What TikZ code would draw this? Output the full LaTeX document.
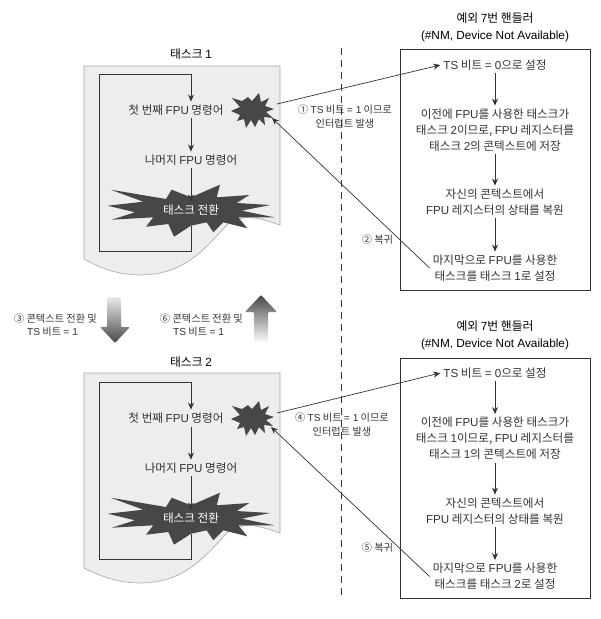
\documentclass[tikz,border=0pt]{standalone}
\usepackage{fontspec}
\setmainfont{Noto Sans CJK KR}
\newfontfamily\latinfont{Liberation Sans}
\newcommand{\en}[1]{{\latinfont #1}}
\usetikzlibrary{arrows.meta}
% outlines of the two bursts, around (0,0)
\newcommand{\bigburst}{(0,-12.7) -- (29,-25.3) -- (25.7,-12.7) -- (58.3,-15) -- (45.7,-7) -- (79,-5) -- (50.7,0.7) -- (83.3,7.3) -- (47.3,7.3) -- (56.3,18.3) -- (32.3,12.3) -- (22.3,22.3) -- (15.7,12.3) -- (0,15.7) -- (-17,26.7) -- (-22.7,14) -- (-45,16.7) -- (-37.7,7.3) -- (-79.3,9.7) -- (-56,2.3) -- (-83.3,-4.3) -- (-47.7,-8.3) -- (-80.3,-20.3) -- (-25,-11) -- (-19.3,-20.3) -- cycle}
\newcommand{\smallburst}{(-20,-12) -- (-10,-9) -- (-4,-13) -- (0,-9) -- (7,-17) -- (9,-8) -- (17,-12) -- (13,-4) -- (22,-1) -- (14,2) -- (21,8) -- (12,7) -- (13,15) -- (7,9) -- (3,17) -- (-1,10) -- (-6,18) -- (-8,9) -- (-15,11) -- (-12,5) -- (-21,1) -- (-12,-3) -- cycle}

\begin{document}
\begin{tikzpicture}[
        x=1pt, y=-1pt,
        font=\fontsize{11.6}{16}\selectfont,
        text=black!80,
        title/.style={align=center, text=black, font=\fontsize{11.8}{17}\selectfont},
        cmd/.style={inner sep=3pt},
        handler/.style={align=center, inner sep=3pt},
        note/.style={align=center, inner sep=0pt, font=\fontsize{10.2}{13.5}\selectfont},
        page/.style={draw=black!35, line width=0.6pt, fill=black!7},
        burst/.style={fill=black!72},
        hbox/.style={draw=black!80, line width=0.8pt},
        flow/.style={draw=black!80, line width=0.8pt},
        arr/.style={-{Stealth[length=7pt,width=6pt]}, black!80, line width=0.7pt}
    ]
    \useasboundingbox (0,0) rectangle (601,619);

    % ====== Divider ======
    \coordinate (divtop) at (341,48);
    \coordinate (divbot) at (341,598);
    \draw[black!80, line width=0.7pt, dash pattern=on 7pt off 5pt] (divtop) -- (divbot);

    % ====== Task 1 ======
    \node[title] (title1) at (191,54) {태스크 \en{1}};
    \draw[page] (84,66) -- (280,66) -- (280,225)
        .. controls (262,219) and (244,212) .. (227,225)
        .. controls (205,248) and (185,275) .. (140,275)
        .. controls (118,275) and (100,268) .. (84,259) -- cycle;
    \fill[burst, shift={(252,110)}] \smallburst;
    \fill[burst, shift={(191,210)}] \bigburst;
    \node[cmd] (first1) at (176,110) {첫 번째 \en{FPU} 명령어};
    \node[cmd] (rest1) at (191,160) {나머지 \en{FPU} 명령어};
    \node[cmd, text=white] (switch1) at (191,210) {태스크 전환};
    \coordinate (loopbot1) at (191,226);
    \draw[flow] (loopbot1) -- (191,251) -- (99,251) -- (99,74) -- (191,74) coordinate (looptop1);
    \draw[arr] (looptop1) -- (rest1.north |- first1.north);
    \draw[arr] (rest1.north |- first1.south) -- (rest1.north);
    \draw[arr] (rest1.south) -- (switch1.north);

    % ====== Handler 1 ======
    \node[title] (htitle1) at (495,27) {예외 \en{7}번 핸들러\\\en{(\#NM, Device Not Available)}};
    \draw[hbox] (400,49) rectangle (590,290);
    \node[handler] (ts1) at (495,65) {\en{TS} 비트 \en{= 0}으로 설정};
    \node[handler] (save1) at (495,130) {이전에 \en{FPU}를 사용한 태스크가\\태스크 \en{2}이므로, \en{FPU} 레지스터를\\태스크 \en{2}의 콘텍스트에 저장};
    \node[handler] (load1) at (495,202) {자신의 콘텍스트에서\\\en{FPU} 레지스터의 상태를 복원};
    \node[handler] (last1) at (495,268) {마지막으로 \en{FPU}를 사용한\\태스크를 태스크 \en{1}로 설정};
    \draw[arr] (ts1) -- (save1);
    \draw[arr] (save1) -- (load1);
    \draw[arr] (load1) -- (last1);

    \coordinate (irqout1) at (277,104);
    \coordinate (irqin1) at (272,118);
    \draw[arr] (irqout1) -- (ts1.west);
    \draw[arr] (last1.west) -- (irqin1);
    \node[note] (irqnote1) at (345,116.5) {① \en{TS} 비트 \en{= 1} 이므로\\인터럽트 발생};
    \node[note] (backnote1) at (377.5,240) {② 복귀};

    % ====== Context switch arrows ======
    \shade[top color=black!8, bottom color=black!72, rounded corners=1pt]
        (107,297) -- (121,297) -- (121,327) -- (130,327) -- (115,343) -- (100,327) -- (107,327) -- cycle;
    \shade[top color=black!72, bottom color=white, rounded corners=1pt]
        (254,343) -- (268,343) -- (268,312) -- (277,312) -- (261,295) -- (245,312) -- (254,312) -- cycle;
    \node[note, align=left] (switchnote1) at (55.5,325) {③ 콘텍스트 전환 및\\\hspace{13pt}\en{TS} 비트 \en{= 1}};
    \node[note, align=left] (switchnote2) at (201.5,325) {⑥ 콘텍스트 전환 및\\\hspace{13pt}\en{TS} 비트 \en{= 1}};

    % ====== Task 2 ======
    \node[title] (title2) at (191,362) {태스크 \en{2}};
    \draw[page] (84,373) -- (280,373) -- (280,533)
        .. controls (262,527) and (244,520) .. (227,533)
        .. controls (205,556) and (185,583) .. (140,583)
        .. controls (118,583) and (100,576) .. (84,568) -- cycle;
    \fill[burst, shift={(252,418)}] \smallburst;
    \fill[burst, shift={(191,518)}] \bigburst;
    \node[cmd] (first2) at (176,418) {첫 번째 \en{FPU} 명령어};
    \node[cmd] (rest2) at (191,468) {나머지 \en{FPU} 명령어};
    \node[cmd, text=white] (switch2) at (191,518) {태스크 전환};
    \coordinate (loopbot2) at (191,534);
    \draw[flow] (loopbot2) -- (191,559) -- (99,559) -- (99,382) -- (191,382) coordinate (looptop2);
    \draw[arr] (looptop2) -- (rest2.north |- first2.north);
    \draw[arr] (rest2.north |- first2.south) -- (rest2.north);
    \draw[arr] (rest2.south) -- (switch2.north);

    % ====== Handler 2 ======
    \node[title] (htitle2) at (495,335) {예외 \en{7}번 핸들러\\\en{(\#NM, Device Not Available)}};
    \draw[hbox] (400,358) rectangle (590,598);
    \node[handler] (ts2) at (495,373) {\en{TS} 비트 \en{= 0}으로 설정};
    \node[handler] (save2) at (495,438.5) {이전에 \en{FPU}를 사용한 태스크가\\태스크 \en{1}이므로, \en{FPU} 레지스터를\\태스크 \en{1}의 콘텍스트에 저장};
    \node[handler] (load2) at (495,511) {자신의 콘텍스트에서\\\en{FPU} 레지스터의 상태를 복원};
    \node[handler] (last2) at (495,576.5) {마지막으로 \en{FPU}를 사용한\\태스크를 태스크 \en{2}로 설정};
    \draw[arr] (ts2) -- (save2);
    \draw[arr] (save2) -- (load2);
    \draw[arr] (load2) -- (last2);

    \coordinate (irqout2) at (277,413);
    \coordinate (irqin2) at (271,427);
    \draw[arr] (irqout2) -- (ts2.west);
    \draw[arr] (last2.west) -- (irqin2);
    \node[note] (irqnote2) at (342,424.5) {④ \en{TS} 비트 \en{= 1} 이므로\\인터럽트 발생};
    \node[note] (backnote2) at (377.5,548) {⑤ 복귀};
\end{tikzpicture}
\end{document}
